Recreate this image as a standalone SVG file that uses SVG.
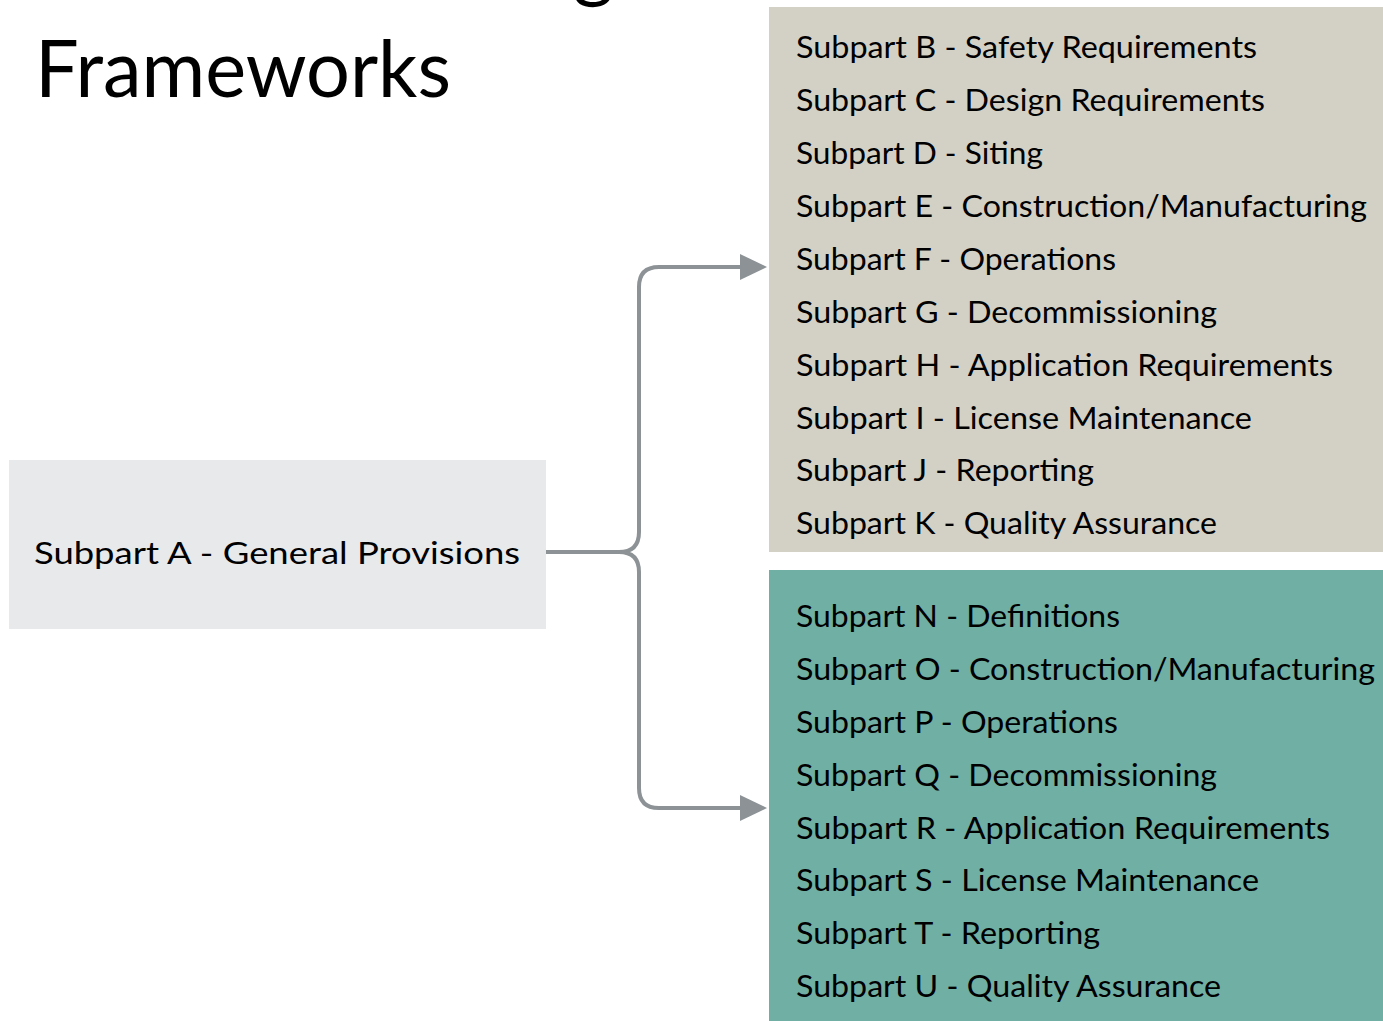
<svg xmlns="http://www.w3.org/2000/svg" width="1383" height="1021" viewBox="0 0 1383 1021">
  <defs>
    <style>
      .t { font-family: Lato, "Open Sans", "Liberation Sans", sans-serif; font-size: 31px; fill: #000000; }
      .title { font-family: Lato, "Open Sans", "Liberation Sans", sans-serif; font-size: 79px; fill: #000000; }
      .conn { fill: none; stroke: #8c9295; stroke-width: 4; stroke-linejoin: round; }
    </style>
    <marker id="arrow" markerUnits="userSpaceOnUse" markerWidth="27" markerHeight="26" refX="5" refY="13" orient="auto">
      <path d="M0,0 L27,13 L0,26 Z" fill="#8c9295"/>
    </marker>
  </defs>

  <rect x="0" y="0" width="1383" height="1021" fill="#ffffff"/>

  <g id="title">
    <text class="title" x="573" y="-8">g</text>
    <text class="title" x="35" y="97" textLength="416" lengthAdjust="spacingAndGlyphs">Frameworks</text>
  </g>

  <g id="connectors">
    <path class="conn" d="M546,552 H619 Q639,552 639,532 V287 Q639,267 659,267 H745" marker-end="url(#arrow)"/>
    <path class="conn" d="M546,552 H619 Q639,552 639,572 V788 Q639,808 659,808 H745" marker-end="url(#arrow)"/>
  </g>

  <g id="node-a">
    <rect x="9" y="460" width="537" height="169" fill="#e8e9eb"/>
    <text class="t" x="34" y="564" textLength="486" lengthAdjust="spacingAndGlyphs">Subpart A - General Provisions</text>
  </g>

  <g id="node-b-k">
    <rect x="769" y="7" width="614" height="545" fill="#d3d1c6"/>
    <text class="t" x="796" y="58" textLength="461" lengthAdjust="spacingAndGlyphs">Subpart B - Safety Requirements</text>
    <text class="t" x="796" y="111" textLength="469" lengthAdjust="spacingAndGlyphs">Subpart C - Design Requirements</text>
    <text class="t" x="796" y="164" textLength="247" lengthAdjust="spacingAndGlyphs">Subpart D - Siting</text>
    <text class="t" x="796" y="217" textLength="571" lengthAdjust="spacingAndGlyphs">Subpart E - Construction/Manufacturing</text>
    <text class="t" x="796" y="270" textLength="320" lengthAdjust="spacingAndGlyphs">Subpart F - Operations</text>
    <text class="t" x="796" y="322.5" textLength="421" lengthAdjust="spacingAndGlyphs">Subpart G - Decommissioning</text>
    <text class="t" x="796" y="375.5" textLength="537" lengthAdjust="spacingAndGlyphs">Subpart H - Application Requirements</text>
    <text class="t" x="796" y="428.5" textLength="456" lengthAdjust="spacingAndGlyphs">Subpart I - License Maintenance</text>
    <text class="t" x="796" y="481" textLength="298" lengthAdjust="spacingAndGlyphs">Subpart J - Reporting</text>
    <text class="t" x="796" y="534" textLength="421" lengthAdjust="spacingAndGlyphs">Subpart K - Quality Assurance</text>
  </g>

  <g id="node-n-u">
    <rect x="769" y="570" width="614" height="451" fill="#70afa3"/>
    <text class="t" x="796" y="627" textLength="324" lengthAdjust="spacingAndGlyphs">Subpart N - Definitions</text>
    <text class="t" x="796" y="680" textLength="579" lengthAdjust="spacingAndGlyphs">Subpart O - Construction/Manufacturing</text>
    <text class="t" x="796" y="732.5" textLength="322" lengthAdjust="spacingAndGlyphs">Subpart P - Operations</text>
    <text class="t" x="796" y="785.5" textLength="421" lengthAdjust="spacingAndGlyphs">Subpart Q - Decommissioning</text>
    <text class="t" x="796" y="838.5" textLength="534" lengthAdjust="spacingAndGlyphs">Subpart R - Application Requirements</text>
    <text class="t" x="796" y="891" textLength="463" lengthAdjust="spacingAndGlyphs">Subpart S - License Maintenance</text>
    <text class="t" x="796" y="944" textLength="304" lengthAdjust="spacingAndGlyphs">Subpart T - Reporting</text>
    <text class="t" x="796" y="997" textLength="425" lengthAdjust="spacingAndGlyphs">Subpart U - Quality Assurance</text>
  </g>
</svg>
